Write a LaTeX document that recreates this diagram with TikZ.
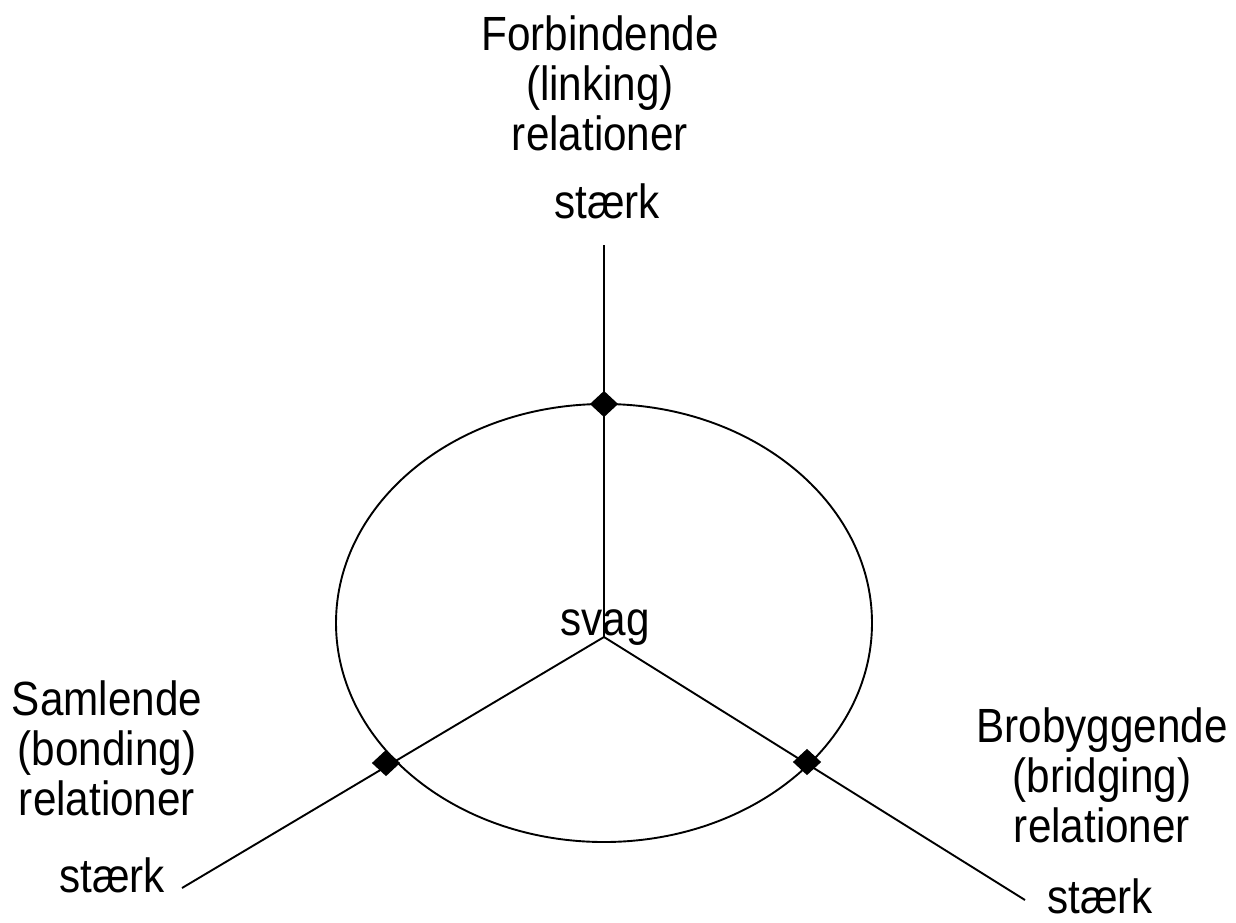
\documentclass[tikz,border=0pt]{standalone}
\usepackage{fontspec}
\setmainfont{Liberation Sans}[FakeStretch=0.88]
\usetikzlibrary{shapes.geometric}
\begin{document}
\begin{tikzpicture}[x=1pt,y=-1pt,line width=1.9pt,
  lbl/.style={font=\fontsize{48}{50}\selectfont, align=center, inner sep=0pt, anchor=base},
  knot/.style={diamond, fill=black, draw=none, inner sep=0pt, minimum width=29pt, minimum height=27pt}]
\useasboundingbox (0,0) rectangle (1236,922);
\coordinate (c) at (604,637);
\coordinate (top) at (604,245);
\coordinate (lend) at (182,888);
\coordinate (rend) at (1025,900);
\draw (604,623) ellipse [x radius=268, y radius=219];
\draw (top) -- (c);
\draw (c) -- (lend);
\draw (c) -- (rend);
\node[knot] (dt) at (604,404) {};
\node[knot] (dl) at (386,763) {};
\node[knot] (dr) at (807,762) {};
\node[lbl] (link) at (600,150) {Forbindende\\(linking)\\relationer};
\node[lbl] (s1) at (607,218) {stærk};
\node[lbl] (svag) at (605,635) {svag};
\node[lbl] (bond) at (107,815) {Samlende\\(bonding)\\relationer};
\node[lbl] (s2) at (112,892) {stærk};
\node[lbl] (bridge) at (1102,842) {Brobyggende\\(bridging)\\relationer};
\node[lbl] (s3) at (1100,913) {stærk};
\end{tikzpicture}
\end{document}
